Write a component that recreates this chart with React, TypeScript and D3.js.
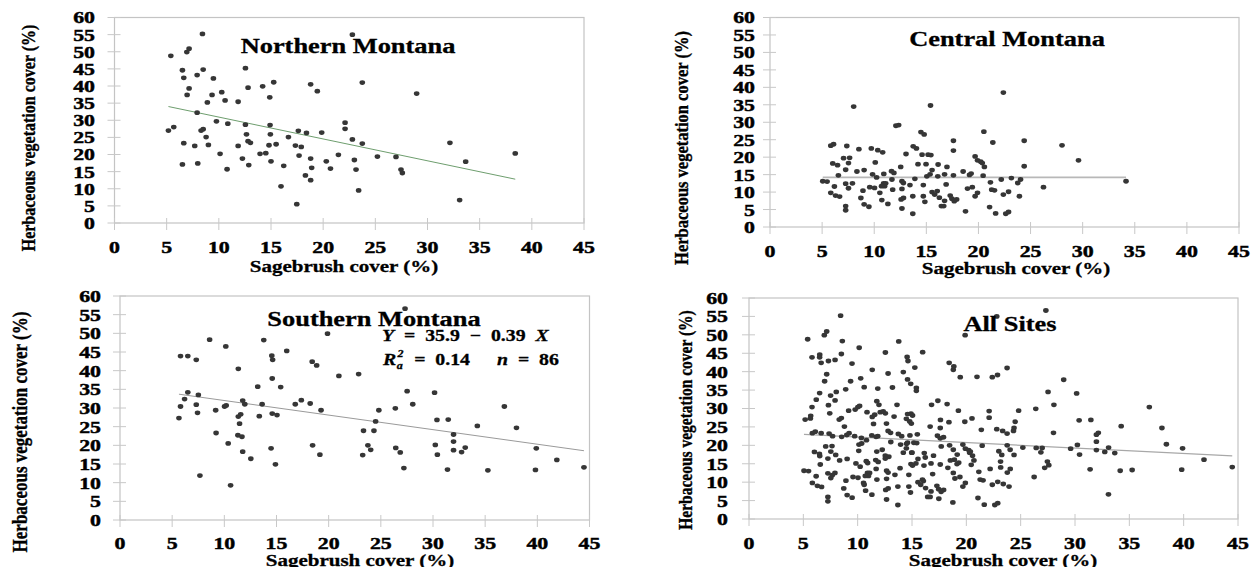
import React, { useEffect, useRef } from 'react';
import * as d3 from 'd3';

type Pt = [number, number];

const W = 1256;
const H = 567;
// the source figure is stretched horizontally, text is squeezed back with this factor
const SX = 1.2;
const FONT = '"Liberation Serif", "Times New Roman", serif';

const X_TICKS = [0, 5, 10, 15, 20, 25, 30, 35, 40, 45];
const Y_TICKS = [0, 5, 10, 15, 20, 25, 30, 35, 40, 45, 50, 55, 60];

// sagebrush cover (%), herbaceous cover (%)
const NORTHERN: Pt[] = [
    [8.43, 55.2], [5.4, 48.8], [6.93, 49.9], [7.15, 50.9], [6.51, 44.6], [6.64, 42.4], [8.5, 44.8], [7.92, 43.2],
    [7.15, 39.3], [6.96, 37.4], [9.48, 42.2], [9.35, 37.4], [8.9, 35.2], [10.28, 38.2], [10.6, 35.8], [7.92, 32.2],
    [5.17, 27.0], [5.68, 28.0], [8.3, 27.0], [8.5, 27.4], [6.64, 23.3], [7.69, 22.5], [8.78, 25.1], [9.0, 22.8],
    [9.77, 29.7], [10.86, 29.0], [6.51, 17.1], [7.98, 17.4], [10.12, 20.2], [10.79, 15.7], [12.55, 45.2], [11.85, 35.4],
    [12.8, 39.5], [12.55, 28.7], [12.65, 25.9], [12.8, 23.9], [13.03, 23.4], [11.85, 22.5], [12.26, 18.8], [12.87, 16.9],
    [14.2, 39.9], [14.88, 36.7], [15.26, 41.1], [14.91, 28.6], [14.94, 25.9], [14.81, 22.7], [15.49, 23.0], [13.95, 20.2],
    [14.5, 20.4], [15.0, 18.0], [16.22, 16.7], [15.96, 10.7], [16.67, 25.1], [17.62, 26.9], [17.34, 22.6], [17.9, 22.2],
    [17.69, 19.7], [17.47, 5.5], [18.4, 26.3], [18.3, 13.9], [18.8, 18.8], [18.9, 16.1], [18.8, 12.5], [18.8, 40.5],
    [19.44, 38.5], [19.86, 26.4], [20.3, 18.0], [20.7, 15.9], [21.46, 19.9], [22.8, 55.0], [22.1, 29.3], [22.1, 27.5],
    [22.8, 24.4], [23.75, 41.0], [23.75, 23.2], [22.99, 18.4], [23.15, 15.6], [23.4, 9.5], [25.2, 19.4], [26.98, 19.3],
    [27.46, 15.6], [27.59, 14.6], [28.96, 37.8], [32.15, 23.4], [33.66, 17.9], [33.08, 6.7], [38.41, 20.3],
];

const CENTRAL: Pt[] = [
    [5.06, 13.1], [5.48, 13.0], [5.83, 23.3], [6.1, 23.7], [6.02, 18.2], [6.48, 17.7], [6.56, 14.8], [6.18, 11.6],
    [5.83, 9.8], [6.29, 9.0], [6.68, 8.7], [7.06, 19.7], [7.64, 19.8], [7.37, 23.2], [7.53, 18.3], [7.26, 16.4],
    [7.26, 12.4], [7.53, 11.1], [7.91, 12.5], [7.26, 6.0], [7.26, 4.8], [8.03, 34.5], [8.34, 15.9], [8.53, 22.3],
    [8.72, 8.3], [8.92, 10.4], [9.03, 16.3], [9.03, 6.5], [9.49, 5.8], [9.72, 22.5], [9.84, 15.1], [9.57, 11.4],
    [10.03, 11.2], [10.1, 18.5], [10.23, 14.2], [10.34, 22.0], [10.81, 21.4], [10.54, 9.8], [10.73, 7.7], [10.92, 15.2],
    [10.9, 12.5], [11.1, 12.5], [11.0, 11.7], [10.7, 11.7], [11.31, 6.6], [11.66, 16.0], [11.89, 15.5], [11.77, 10.7],
    [11.7, 13.6], [12.08, 29.0], [12.35, 29.2], [12.54, 17.2], [12.66, 13.1], [12.66, 10.9], [12.58, 7.9], [12.81, 8.3],
    [12.66, 5.3], [13.05, 20.9], [12.8, 12.6], [13.43, 12.0], [13.7, 8.8], [13.7, 3.8], [13.74, 23.1], [14.05, 22.5],
    [13.9, 13.8], [14.2, 18.0], [14.48, 27.2], [14.79, 26.5], [14.59, 20.7], [14.97, 18.0], [14.71, 12.0], [14.71, 8.8],
    [14.86, 7.2], [15.17, 20.7], [15.44, 20.6], [15.05, 14.5], [15.4, 34.8], [15.55, 16.3], [15.36, 15.1], [15.55, 10.0],
    [15.8, 9.3], [16.05, 10.3], [16.13, 17.9], [16.1, 14.5], [16.25, 8.4], [16.44, 6.0], [16.67, 6.0], [16.75, 7.5],
    [16.75, 15.1], [16.98, 17.2], [16.9, 12.2], [17.29, 9.0], [17.6, 24.7], [17.6, 21.9], [17.6, 14.8], [17.45, 8.1],
    [17.68, 7.4], [17.91, 7.9], [18.53, 15.9], [18.76, 4.5], [19.14, 14.9], [19.3, 15.3], [18.95, 11.0], [19.41, 11.4],
    [19.68, 20.2], [19.91, 19.1], [20.22, 18.7], [19.68, 8.8], [19.91, 9.8], [20.37, 18.3], [20.52, 27.3], [20.57, 17.2],
    [20.45, 14.7], [21.07, 5.7], [21.15, 12.8], [21.27, 10.7], [21.54, 10.5], [21.38, 24.2], [21.65, 3.9], [22.19, 13.6],
    [22.39, 38.5], [22.39, 9.3], [22.62, 3.8], [22.89, 4.3], [22.89, 10.1], [23.16, 14.0], [23.77, 12.6], [24.04, 13.6],
    [23.93, 8.8], [24.39, 24.7], [24.39, 17.4], [26.24, 11.4], [28.02, 23.4], [29.6, 19.1], [34.16, 13.1],
];

const SOUTHERN: Pt[] = [
    [5.65, 27.3], [5.8, 30.4], [5.8, 43.9], [6.19, 32.4], [6.5, 34.2], [6.5, 43.9], [7.31, 42.9], [7.31, 30.9],
    [7.43, 28.7], [7.51, 33.5], [7.66, 11.9], [8.59, 48.3], [9.17, 29.4], [9.21, 23.3], [10.02, 30.4], [10.18, 30.7],
    [10.14, 46.5], [10.37, 20.5], [10.6, 9.3], [11.34, 40.5], [11.34, 27.7], [11.57, 28.3], [11.46, 25.8], [11.3, 22.7],
    [11.69, 22.3], [11.76, 32.0], [11.96, 31.0], [11.76, 18.3], [12.54, 16.4], [13.2, 35.7], [13.35, 27.8], [13.62, 31.0],
    [13.78, 48.2], [14.55, 44.0], [14.63, 42.9], [14.59, 37.9], [14.59, 28.5], [15.05, 28.1], [14.48, 19.2], [14.9, 14.9],
    [15.4, 35.6], [15.98, 45.3], [16.8, 31.0], [17.38, 32.1], [18.23, 31.2], [18.42, 42.4], [18.85, 41.4], [18.46, 20.0],
    [19.27, 29.4], [19.16, 17.5], [19.89, 49.9], [20.98, 38.6], [22.87, 39.1], [23.34, 23.9], [23.26, 17.4], [23.76, 20.0],
    [24.03, 18.8], [24.34, 23.9], [24.5, 26.4], [24.81, 29.4], [26.39, 29.9], [26.43, 19.3], [26.86, 18.1], [27.21, 13.9],
    [27.32, 56.6], [27.52, 34.5], [28.06, 31.0], [30.15, 34.1], [30.22, 20.1], [30.38, 26.8], [30.42, 17.5], [31.46, 26.9],
    [31.39, 13.5], [31.97, 22.9], [31.97, 21.0], [31.97, 18.7], [32.74, 18.2], [33.09, 19.4], [34.25, 25.2], [35.26, 13.3],
    [36.84, 30.4], [38.0, 24.7], [39.9, 19.2], [39.82, 13.4], [41.87, 16.1], [44.47, 14.1],
];

// All Sites = every site pooled
const ALL_SITES: Pt[] = [...NORTHERN, ...CENTRAL, ...SOUTHERN];

const TITLES = ['Northern Montana', 'Central Montana', 'Southern Montana', 'All Sites'];
const FIT_INTERCEPT = [37.3, 14.2, 35.9, 23.7];
const FIT_SLOPE = [-0.638, 0, -0.39, -0.1475];
const X_LABEL = 'Sagebrush cover (%)';
const Y_LABEL = 'Herbaceous vegetation cover (%)';

const PANELS = [
    { data: NORTHERN, box: { l: 114.5, r: 584, t: 17.5, b: 223 }, yTickR: 95, xTickY: 253,
      yLab: { x: 28, y: 138, size: 16 }, title: { x: 348, y: 53 }, xLab: { x: 344, y: 272 },
      line: { color: '#6e9e6e', width: 1 } },
    { data: CENTRAL, box: { l: 770, r: 1239, t: 17.5, b: 227 }, yTickR: 755, xTickY: 257,
      yLab: { x: 681, y: 148, size: 16.5 }, title: { x: 1007, y: 46 }, xLab: { x: 1016, y: 274 },
      line: { color: '#b8b8b8', width: 1.6 } },
    { data: SOUTHERN, box: { l: 120, r: 589.5, t: 296, b: 520 }, yTickR: 101, xTickY: 548.5,
      yLab: { x: 20, y: 432, size: 17 }, title: { x: 374, y: 326 }, xLab: { x: 360, y: 565.5 },
      line: { color: '#9a9a9a', width: 1 } },
    { data: ALL_SITES, box: { l: 749, r: 1238, t: 298, b: 519 }, yTickR: 728, xTickY: 548.5,
      yLab: { x: 686, y: 420, size: 15.5 }, title: { x: 1010, y: 331 }, xLab: { x: 1003, y: 565.5 },
      line: { color: '#a8a8a8', width: 1.2 } },
];

const App: React.FC = () => {
    const svgRef = useRef<SVGSVGElement>(null);

    useEffect(() => {
        if (!svgRef.current) return;
        const svg = d3.select(svgRef.current);
        svg.selectAll('*').remove();

        // heavier strokes on the glyphs, the scanned figure reads very bold
        const heavy = (sel: any, w = 0.45) => sel
            .style('font-family', FONT).style('font-weight', 'bold')
            .attr('stroke', '#000').attr('stroke-width', w).attr('fill', '#000');

        PANELS.forEach((p, i) => {
            const { l, r, t, b } = p.box;
            const x = d3.scaleLinear().domain([0, 45]).range([l, r]);
            const y = d3.scaleLinear().domain([0, 60]).range([b, t]);
            const g = svg.append('g');

            // frame
            g.append('rect')
                .attr('x', l).attr('y', t).attr('width', r - l).attr('height', b - t)
                .attr('fill', 'none').attr('stroke', '#c4c4c4').attr('stroke-width', 1.2);

            // crossing tick marks
            g.selectAll('line.xt').data(X_TICKS).enter().append('line')
                .attr('x1', d => x(d)).attr('x2', d => x(d))
                .attr('y1', b - 5).attr('y2', b + 7)
                .attr('stroke', '#c8c8c8').attr('stroke-width', 1);
            g.selectAll('line.yt').data(Y_TICKS).enter().append('line')
                .attr('x1', l - 7).attr('x2', l + 6)
                .attr('y1', d => y(d)).attr('y2', d => y(d))
                .attr('stroke', '#c8c8c8').attr('stroke-width', 1);

            // tick labels
            heavy(g.selectAll('text.xl').data(X_TICKS).enter().append('text')
                .attr('transform', d => `translate(${x(d)},${p.xTickY}) scale(1.25,1)`)
                .attr('text-anchor', 'middle')
                .style('font-size', '17.5px')
                .text(d => d));
            heavy(g.selectAll('text.yl').data(Y_TICKS).enter().append('text')
                .attr('transform', d => `translate(${p.yTickR},${y(d)}) scale(1.25,1)`)
                .attr('text-anchor', 'end').attr('dy', '0.34em')
                .style('font-size', '17.5px')
                .text(d => d));

            // axis titles
            heavy(g.append('text')
                .attr('transform', `translate(${p.xLab.x},${p.xLab.y}) scale(${SX},1)`)
                .attr('text-anchor', 'middle')
                .style('font-size', '17.5px')
                .text(X_LABEL), 0.3);
            heavy(g.append('text')
                .attr('transform', `translate(${p.yLab.x},${p.yLab.y}) scale(${SX},1) rotate(-90)`)
                .attr('text-anchor', 'middle').attr('dy', '0.34em')
                .style('font-size', `${p.yLab.size}px`)
                .text(Y_LABEL), 0.3);

            // fitted line over the range of the data
            const [x0, x1] = d3.extent(p.data, d => d[0]) as [number, number];
            const fit = (v: number) => FIT_INTERCEPT[i] + FIT_SLOPE[i] * v;
            g.append('line')
                .attr('x1', x(x0)).attr('y1', y(fit(x0)))
                .attr('x2', x(x1)).attr('y2', y(fit(x1)))
                .attr('stroke', p.line.color).attr('stroke-width', p.line.width);

            // points
            g.selectAll('ellipse').data(p.data).enter().append('ellipse')
                .attr('cx', d => x(d[0])).attr('cy', d => y(d[1]))
                .attr('rx', 2.8).attr('ry', 2.4)
                .attr('fill', '#363636');

            // panel title
            heavy(g.append('text')
                .attr('transform', `translate(${p.title.x},${p.title.y}) scale(${SX},1)`)
                .attr('text-anchor', 'middle')
                .style('font-size', '22px')
                .text(TITLES[i]), 0.3);
        });

        // regression equation for Southern Montana
        const eq = svg.append('g')
            .style('font-family', FONT).style('font-weight', 'bold').style('font-size', '16.5px')
            .attr('stroke', '#000').attr('stroke-width', 0.3);
        const t1 = eq.append('text')
            .attr('transform', `translate(382,341) scale(${SX},1)`)
            .style('white-space', 'pre');
        t1.append('tspan').style('font-style', 'italic').text('Y');
        t1.append('tspan').text(`  =  ${FIT_INTERCEPT[2]}  \u2212  ${Math.abs(FIT_SLOPE[2])}  `);
        t1.append('tspan').style('font-style', 'italic').text('X');

        const t2 = eq.append('g').attr('transform', `translate(383,365) scale(${SX},1)`);
        t2.append('text').style('font-style', 'italic').text('R');
        t2.append('text').attr('x', 11.5).attr('y', 4).style('font-style', 'italic').style('font-size', '10px').text('a');
        t2.append('text').attr('x', 12).attr('y', -8).style('font-style', 'italic').style('font-size', '10px').text('2');
        t2.append('text').attr('x', 26).style('white-space', 'pre').text('=  0.14');
        t2.append('text').attr('x', 95).style('white-space', 'pre')
            .html('<tspan font-style="italic">n</tspan>  =  86');
    }, []);

    return (
        <div style={{ position: 'absolute', left: 0, top: 0 }}>
            <svg ref={svgRef} width={W} height={H} style={{ background: '#fff', display: 'block' }} />
        </div>
    );
};

export default App;
